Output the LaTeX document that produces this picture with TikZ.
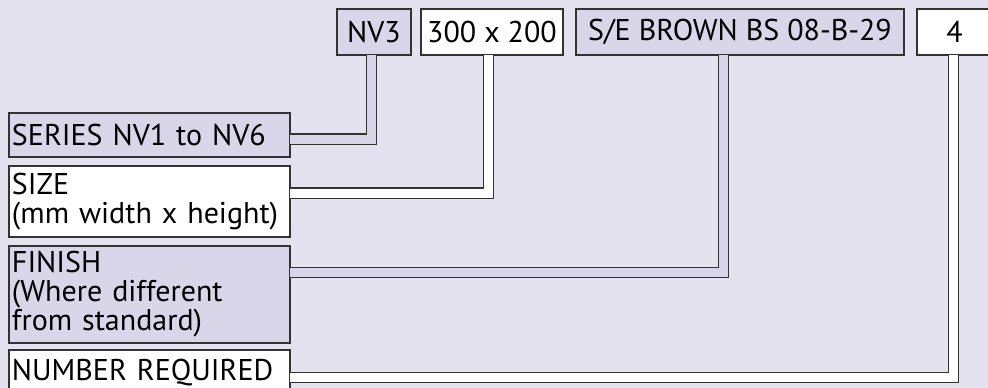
\documentclass[tikz,border=0pt]{standalone}
\usepackage{fontspec}
\setmainfont{PT Sans}
\definecolor{bg}{HTML}{E4E2EE}
\definecolor{lav}{HTML}{D8D6E8}
\definecolor{edge}{HTML}{333333}
\begin{document}
\begin{tikzpicture}[x=1pt,y=-1pt,line join=miter,line cap=butt,
font=\fontsize{30}{29}\selectfont,
tag/.style={draw=edge,line width=1.2pt,inner sep=0pt,minimum height=46pt,align=center},
lbl/.style={draw=edge,line width=1.2pt,inner xsep=3pt,inner ysep=0pt,text width=275pt,align=left},
pipe/.style={draw=edge,line width=1.2pt,double distance=9pt}]
\fill[bg] (0,0) rectangle (988,388);
\useasboundingbox (0,0) rectangle (988,388);
\begin{scope}
\clip (0,0) rectangle (988,388);
\node[tag,fill=lav,minimum width=74pt] (nv) at (374,32) {NV3};
\node[tag,fill=white,minimum width=142pt] (dim) at (492,32) {300 x 200};
\node[tag,fill=lav,minimum width=328pt] (col) at (740,32) {S/E BROWN BS 08-B-29};
\node[tag,fill=white,minimum width=75pt] (qty) at (954.5,32) {4};
\node[lbl,fill=lav,minimum height=44pt] (series) at (149.5,135) {SERIES NV1 to NV6};
\node[lbl,fill=white,minimum height=71pt] (size) at (149.5,201.5) {SIZE\\(mm width x height)};
\node[lbl,fill=lav,minimum height=97pt] (finish) at (149.5,294.5) {FINISH\\(Where different\\from standard)};
\node[lbl,fill=white,minimum height=46pt] (number) at (149.5,373) {NUMBER REQUIRED};
\draw[pipe,double=lav] ([xshift=-2.5pt,yshift=0.8pt]nv.south) |- ([xshift=-0.8pt,yshift=-4pt]series.east);
\draw[pipe,double=white] ([xshift=-3.5pt,yshift=0.8pt]dim.south) |- ([xshift=-0.8pt,yshift=8.5pt]size.east);
\draw[pipe,double=lav] ([xshift=-16.5pt,yshift=0.8pt]col.south) |- ([xshift=-0.8pt,yshift=22pt]finish.east);
\draw[pipe,double=white] ([xshift=-1pt,yshift=0.8pt]qty.south) |- ([xshift=-0.8pt,yshift=-4.5pt]number.east);
\end{scope}
\end{tikzpicture}
\end{document}
